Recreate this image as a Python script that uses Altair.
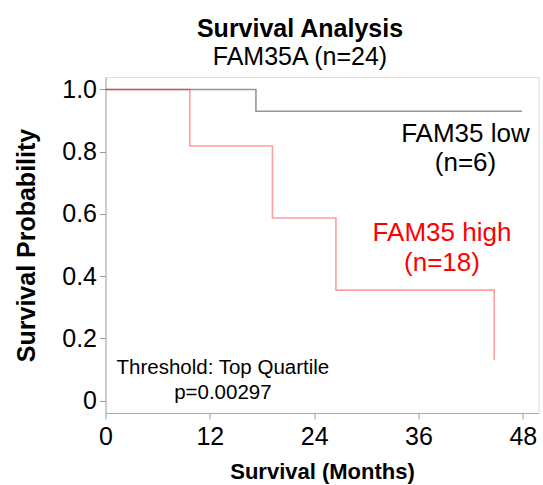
import altair as alt
import pandas as pd

# Kaplan-Meier step data
low_months = [0, 17.3, 47.9]
low_surv = [1.0, 0.93, 0.93]
high_months = [0, 9.7, 19.2, 26.5, 44.7]
high_surv = [1.0, 0.818, 0.587, 0.355, 0.13]

x_ticks = [0, 12, 24, 36, 48]
y_ticks = [0, 0.2, 0.4, 0.6, 0.8, 1.0]

# annotation texts
low_label = ["FAM35 low", "(n=6)"]
high_label = ["FAM35 high", "(n=18)"]
note_label = ["Threshold: Top Quartile", "p=0.00297"]

FONT = "Liberation Sans"

curves = pd.DataFrame(
    [{"group": "low", "month": m, "surv": s, "order": i} for i, (m, s) in enumerate(zip(low_months, low_surv))]
    + [{"group": "high", "month": m, "surv": s, "order": i} for i, (m, s) in enumerate(zip(high_months, high_surv))]
)

xs = alt.Scale(domain=[0, 49.8], nice=False, zero=False)
ys = alt.Scale(domain=[-0.04, 1.04], nice=False, zero=False)

x_axis = alt.Axis(values=x_ticks, title="Survival (Months)", grid=False,
                  labelFontSize=25, titleFontSize=22, titleFontWeight="bold",
                  labelFont=FONT, titleFont=FONT, labelColor="black", titleColor="black",
                  tickSize=6, labelPadding=5, titlePadding=12, domainColor="#aaaaaa",
                  tickColor="#999999", labelFlush=False)
y_axis = alt.Axis(values=y_ticks, title="Survival Probability", grid=False,
                  labelExpr="datum.value == 0 ? '0' : format(datum.value, '.1f')",
                  labelFontSize=25, titleFontSize=25, titleFontWeight="bold",
                  labelFont=FONT, titleFont=FONT, labelColor="black", titleColor="black",
                  tickSize=6, labelPadding=3, titlePadding=22, domainColor="#aaaaaa",
                  tickColor="#999999", labelFlush=False)

low_line = alt.Chart(curves).transform_filter(alt.datum.group == "low").mark_line(
    interpolate="step-after", color="#8a8a8a", strokeWidth=1.6, opacity=0.9
).encode(
    x=alt.X("month:Q", scale=xs, axis=x_axis),
    y=alt.Y("surv:Q", scale=ys, axis=y_axis),
    order="order:Q",
)

high_line = alt.Chart(curves).transform_filter(alt.datum.group == "high").mark_line(
    interpolate="step-after", color="#ff0000", strokeWidth=1.6, opacity=0.38
).encode(
    x=alt.X("month:Q", scale=xs),
    y=alt.Y("surv:Q", scale=ys),
    order="order:Q",
)

ann = pd.DataFrame([
    {"text": low_label[0], "x": 41.4, "y": 0.83, "c": "black", "s": 26},
    {"text": low_label[1], "x": 41.4, "y": 0.737, "c": "black", "s": 26},
    {"text": high_label[0], "x": 38.7, "y": 0.512, "c": "red", "s": 26},
    {"text": high_label[1], "x": 38.7, "y": 0.416, "c": "red", "s": 26},
    {"text": note_label[0], "x": 13.5, "y": 0.084, "c": "black", "s": 20.5},
    {"text": note_label[1], "x": 13.5, "y": 0.006, "c": "black", "s": 20.5},
])

texts = alt.Chart(ann).mark_text(font=FONT, baseline="alphabetic", align="center").encode(
    x=alt.X("x:Q", scale=xs),
    y=alt.Y("y:Q", scale=ys),
    text="text:N",
    color=alt.Color("c:N", scale=None),
    size=alt.Size("s:Q", scale=None),
)

chart = alt.layer(low_line, high_line, texts).properties(
    width=433,
    height=336,
    autosize=alt.AutoSizeParams(type="none"),
    padding={"left": 105.5, "top": 77, "right": 4.5, "bottom": 72},
    title=alt.TitleParams(
        text="Survival Analysis",
        subtitle="FAM35A (n=24)",
        fontSize=25, subtitleFontSize=25,
        font=FONT, subtitleFont=FONT,
        fontWeight="bold", color="black", subtitleColor="black",
        anchor="middle", dx=-22, offset=7, subtitlePadding=3,
    ),
).configure_view(stroke="#aaaaaa", strokeWidth=1).configure(background="white")

chart.save("out.html", embed_options={"renderer": "svg", "actions": False})
